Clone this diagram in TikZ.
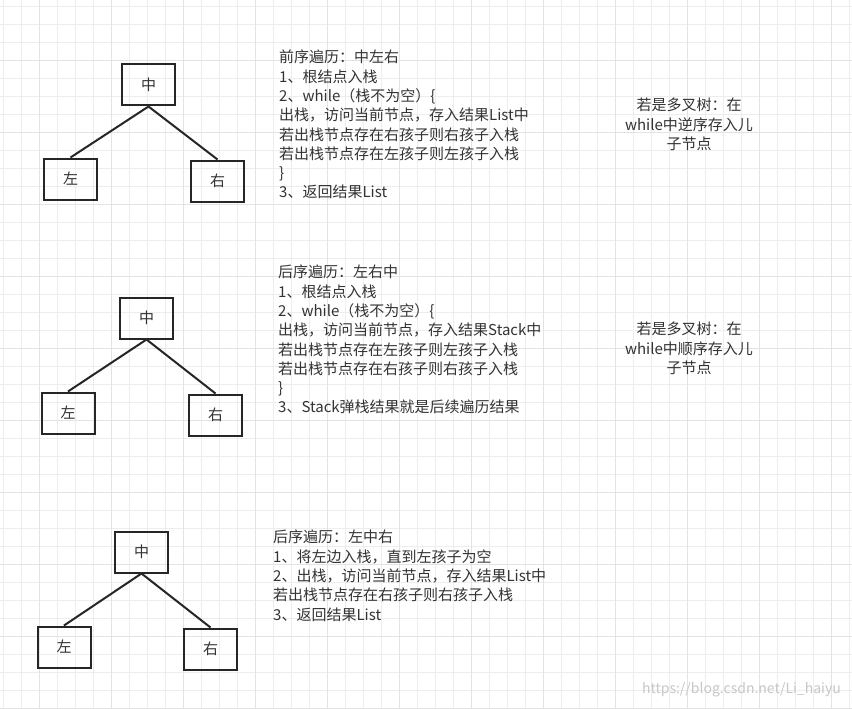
\documentclass[tikz,border=0pt]{standalone}
\usepackage{fontspec}
\setmainfont{Noto Sans CJK SC}
\colorlet{grid minor color}{black!7}
\colorlet{grid major color}{black!11}
\colorlet{text color}{black!80}
\tikzset{
    x={1pt},
    y={-1pt},
    tree node/.style={
        draw=black!85,
        line width={2pt},
        minimum width={53},
        minimum height={41},
        inner sep=0pt,
        font={\fontsize{15}{17}\selectfont\color{text color}},
    },
    tree edge/.style={
        draw=black!85,
        line width={2pt},
    },
    note/.style={
        anchor=north west,
        align=left,
        inner sep=0pt,
        font={\fontsize{15}{19.3}\selectfont\color{text color}},
    },
    side note/.style={
        anchor=north,
        align=center,
        inner sep=0pt,
        font={\fontsize{15}{19.3}\selectfont\color{text color}},
    },
}
\begin{document}
\begin{tikzpicture}
% background
\useasboundingbox (0,0) rectangle (852,709);
\fill[white] (0,0) rectangle (852,709);
\foreach \gx in {3,21,...,852} {
    \draw[grid minor color, line width={0.8pt}] (\gx,0) -- (\gx,709);
}
\foreach \gy in {6,24,...,709} {
    \draw[grid minor color, line width={0.8pt}] (0,\gy) -- (852,\gy);
}
\foreach \gx in {39,111,...,852} {
    \draw[grid major color, line width={0.8pt}] (\gx,0) -- (\gx,709);
}
\foreach \gy in {60,132,...,709} {
    \draw[grid major color, line width={0.8pt}] (0,\gy) -- (852,\gy);
}
% trees
\node[tree node] (root a) at (148.5,85) {中};
\node[tree node] (left a) at (70.5,179) {左};
\node[tree node] (right a) at (217.5,181) {右};
\draw[tree edge] (root a.south) -- (left a.north);
\draw[tree edge] (root a.south) -- (right a.north);
\node[tree node] (root b) at (146.5,318) {中};
\node[tree node] (left b) at (68,413) {左};
\node[tree node] (right b) at (215.5,415) {右};
\draw[tree edge] (root b.south) -- (left b.north);
\draw[tree edge] (root b.south) -- (right b.north);
\node[tree node] (root c) at (141.5,552) {中};
\node[tree node] (left c) at (64,647) {左};
\node[tree node] (right c) at (210.5,649) {右};
\draw[tree edge] (root c.south) -- (left c.north);
\draw[tree edge] (root c.south) -- (right c.north);
% notes
\node[note] (preorder) at (279,50) {前序遍历：中左右\\1、根结点入栈\\2、while（栈不为空）\{\\出栈，访问当前节点，存入结果List中\\若出栈节点存在右孩子则右孩子入栈\\若出栈节点存在左孩子则左孩子入栈\\\}\\3、返回结果List};
\node[note] (postorder) at (278,265) {后序遍历：左右中\\1、根结点入栈\\2、while（栈不为空）\{\\出栈，访问当前节点，存入结果Stack中\\若出栈节点存在左孩子则左孩子入栈\\若出栈节点存在右孩子则右孩子入栈\\\}\\3、Stack弹栈结果就是后续遍历结果};
\node[note] (inorder) at (273,530) {后序遍历：左中右\\1、将左边入栈，直到左孩子为空\\2、出栈，访问当前节点，存入结果List中\\若出栈节点存在右孩子则右孩子入栈\\3、返回结果List};
\node[side note] (multi a) at (689,98) {若是多叉树：在\\while中逆序存入儿\\子节点};
\node[side note] (multi b) at (689,322) {若是多叉树：在\\while中顺序存入儿\\子节点};
\node[anchor=east, inner sep=0pt, font={\fontsize{14}{16}\selectfont\color{black!22}}] (mark) at (841,690) {https://blog.csdn.net/Li\_haiyu};
\end{tikzpicture}
\end{document}
